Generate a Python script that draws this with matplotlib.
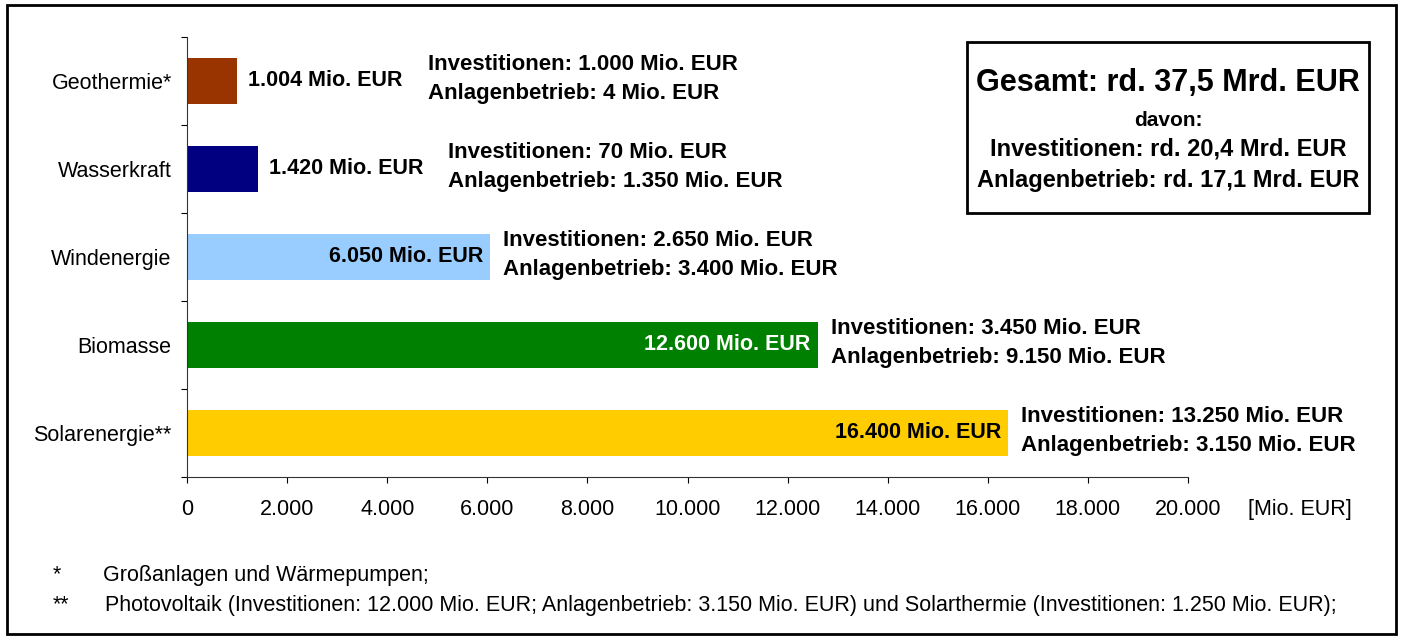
import matplotlib
matplotlib.use("Agg")
import matplotlib.pyplot as plt
from matplotlib.patches import Rectangle

plt.rcParams['font.family'] = ['Liberation Sans', 'DejaVu Sans']

categories = ["Geothermie*", "Wasserkraft", "Windenergie", "Biomasse", "Solarenergie**"]
totals = [1004, 1420, 6050, 12600, 16400]
investitionen = ["1.000", "70", "2.650", "3.450", "13.250"]
anlagenbetrieb = ["4", "1.350", "3.400", "9.150", "3.150"]
total_labels = ["1.004", "1.420", "6.050", "12.600", "16.400"]
colors = ["#993300", "#000080", "#99CCFF", "#008000", "#FFCC00"]
label_inside = [False, False, True, True, True]
label_colors = ["black", "black", "black", "white", "black"]
xticks = [0, 2000, 4000, 6000, 8000, 10000, 12000, 14000, 16000, 18000, 20000]
xtick_labels = ["0", "2.000", "4.000", "6.000", "8.000", "10.000", "12.000",
                "14.000", "16.000", "18.000", "20.000"]

FS = 15.5
BFS = 15.5

fig = plt.figure(figsize=(14.02, 6.39), dpi=100)
fig.patch.set_facecolor("white")

# outer frame
fig.patches.append(Rectangle((7/1402, 1-634/639), (1396-7)/1402, (634-5)/639,
                             transform=fig.transFigure, fill=False,
                             edgecolor="black", linewidth=2))

ax = fig.add_axes([187/1402, 1-477/639, (1188-187)/1402, (477-37)/639])
ypos = list(range(len(categories)))
ax.barh(ypos, totals, height=0.52, color=colors, edgecolor="none")
ax.set_xlim(0, 20000)
ax.set_ylim(len(categories) - 0.5, -0.5)

ax.set_xticks(xticks)
ax.set_xticklabels(xtick_labels, fontsize=FS)
ax.set_yticks(ypos)
ax.set_yticklabels(categories, fontsize=FS)
ax.tick_params(axis="y", length=0, pad=11)
ax.tick_params(axis="x", length=4, width=0.8, pad=11.5, direction="out")
# y-axis tick marks between categories
ax.set_yticks([i - 0.5 for i in range(len(categories) + 1)], minor=True)
ax.tick_params(axis="y", which="minor", length=4, width=0.8, direction="out")

for s in ["top", "right"]:
    ax.spines[s].set_visible(False)
for s in ["left", "bottom"]:
    ax.spines[s].set_linewidth(0.8)
    ax.spines[s].set_color("#333333")

for i, (v, lbl, inside, lc, inv, anl) in enumerate(
        zip(totals, total_labels, label_inside, label_colors, investitionen, anlagenbetrieb)):
    txt = f"{lbl} Mio. EUR"
    if inside:
        ax.annotate(txt, (v, i), xytext=(-5, 0), textcoords="offset points",
                    ha="right", va="center", fontsize=BFS, fontweight="bold", color=lc)
        off = 9.5
    else:
        ax.annotate(txt, (v, i), xytext=(8, 0), textcoords="offset points",
                    ha="left", va="center", fontsize=BFS, fontweight="bold", color=lc)
        off = 137
    ax.annotate(f"Investitionen: {inv} Mio. EUR\nAnlagenbetrieb: {anl} Mio. EUR",
                (v, i), xytext=(off, 1.5), textcoords="offset points",
                ha="left", va="center", fontsize=16, fontweight="bold",
                color="black", linespacing=1.5, clip_on=False)

fig.text(1248/1402, 1-510/639, "[Mio. EUR]", ha="left", va="center", fontsize=FS)

# summary box
fig.patches.append(Rectangle((967/1402, 1-213/639), (1369-967)/1402, (213-42)/639,
                             transform=fig.transFigure, fill=False,
                             edgecolor="black", linewidth=2))
cx = 1168/1402
fig.text(cx, 1-83/639, "Gesamt: rd. 37,5 Mrd. EUR", ha="center", va="center",
         fontsize=22, fontweight="bold")
fig.text(cx, 1-120/639, "davon:", ha="center", va="center", fontsize=15, fontweight="bold")
fig.text(cx, 1-149/639, "Investitionen: rd. 20,4 Mrd. EUR", ha="center", va="center",
         fontsize=17, fontweight="bold")
fig.text(cx, 1-181/639, "Anlagenbetrieb: rd. 17,1 Mrd. EUR", ha="center", va="center",
         fontsize=17, fontweight="bold")

# footnotes
fig.text(53/1402, 1-575/639, "*", ha="left", va="center", fontsize=FS)
fig.text(103/1402, 1-575/639, "Großanlagen und Wärmepumpen;", ha="left", va="center", fontsize=FS)
fig.text(53/1402, 1-605/639, "**", ha="left", va="center", fontsize=FS)
fig.text(105/1402, 1-605/639,
         "Photovoltaik (Investitionen: 12.000 Mio. EUR; Anlagenbetrieb: 3.150 Mio. EUR) "
         "und Solarthermie (Investitionen: 1.250 Mio. EUR);",
         ha="left", va="center", fontsize=FS)

fig.savefig("out.png", dpi=100)
